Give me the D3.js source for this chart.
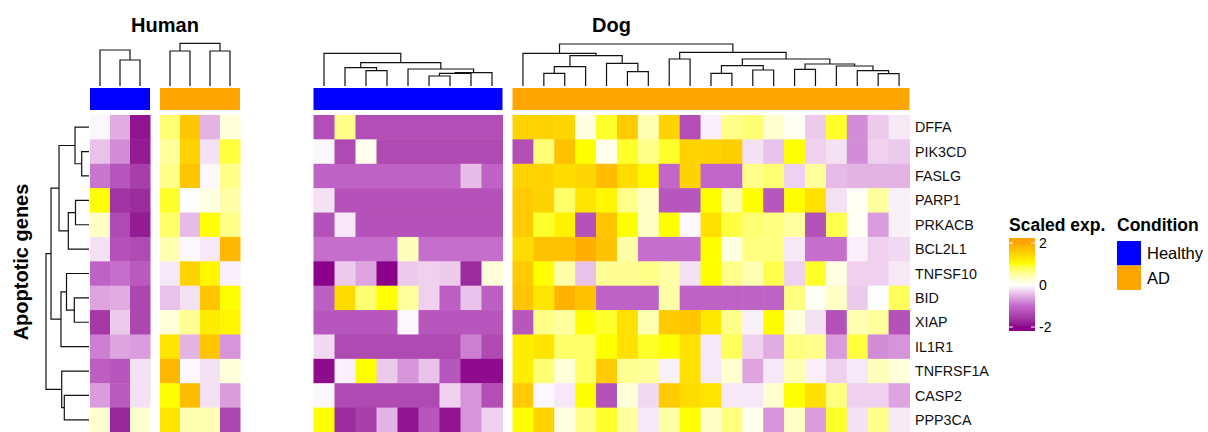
<!DOCTYPE html>
<html>
<head>
<meta charset="utf-8">
<script src="https://cdn.jsdelivr.net/npm/d3@7"></script>
<style>
  body { margin: 0; background: #fff; }
  svg { display: block; font-family: "Liberation Sans", Arial, sans-serif; }
</style>
</head>
<body>
<svg id="chart" width="1208" height="432"></svg>
<script>
// genes (rows, top to bottom)
const genes = ["DFFA", "PIK3CD", "FASLG", "PARP1", "PRKACB", "BCL2L1", "TNFSF10",
  "BID", "XIAP", "IL1R1", "TNFRSF1A", "CASP2", "PPP3CA"]

const conditions = ["Healthy", "AD"]
const conditionColors = ["#0000FF", "#FFA500"]

// scaled expression, one array per row
const humanHealthy = [
  [-0.05, -0.55, -1.9], [-0.4, -0.75, -1.85], [-0.9, -1.2, -1.5], [1.0, -1.6, -1.7],
  [0.3, -1.35, -1.85], [-0.2, -1.25, -1.35], [-1.05, -0.95, -1.15], [-0.6, -0.55, -1.4],
  [-1.55, -0.35, -1.4], [-0.85, -0.6, -0.65], [-1.1, -1.2, -0.2], [-0.65, -1.15, -0.2],
  [0.25, -1.75, 0.25]
]
const humanAD = [
  [0.7, 1.65, -0.5, 0.2], [0.5, 1.5, -0.2, 0.9], [0.6, 1.65, -0.05, 0.6], [0.95, 0.0, 0.15, 0.45],
  [0.75, -0.45, 1.0, 0.6], [0.4, -0.05, -0.15, 1.8], [-0.15, 1.5, 1.1, -0.1], [-0.4, -0.2, 1.65, 1.0],
  [0.2, 0.55, 1.2, 1.1], [1.3, -0.5, 1.65, -0.7], [1.8, -0.05, -0.2, 0.2], [1.0, 1.75, -0.2, -0.65],
  [1.3, 0.4, 0.4, -1.4]
]
const dogHealthy = [
  [-1.3, 0.6, -1.3, -1.3, -1.3, -1.3, -1.3, -1.3, -1.3],
  [-0.05, -1.35, 0.1, -1.35, -1.35, -1.35, -1.35, -1.35, -1.35],
  [-1.05, -1.05, -1.05, -1.05, -1.05, -1.05, -1.05, -0.45, -1.05],
  [-0.2, -1.25, -1.25, -1.25, -1.25, -1.25, -1.25, -1.25, -1.25],
  [-1.25, -0.15, -1.25, -1.25, -1.25, -1.25, -1.25, -1.25, -1.25],
  [-0.95, -0.95, -0.95, -0.95, 0.35, -0.95, -0.95, -0.95, -0.95],
  [-2.0, -0.35, -0.6, -2.0, -0.35, -0.3, -0.35, -1.7, 0.2],
  [-1.1, 1.4, 0.7, 1.0, 0.5, -0.3, -1.1, -0.4, -1.1],
  [-1.2, -1.2, -1.2, -1.2, -0.05, -1.2, -1.2, -1.2, -1.2],
  [-0.25, -1.35, -1.35, -1.35, -1.35, -1.35, -1.35, -0.85, -1.35],
  [-1.95, -0.1, 1.0, -0.35, -0.7, -0.4, -1.2, -1.95, -1.95],
  [-0.05, -1.35, -1.35, -1.35, -1.35, -1.35, -0.3, -0.7, -1.3],
  [1.0, -1.7, -1.5, -0.5, -1.9, -1.2, -1.9, -0.7, -0.3]
]
const dogAD = [
  [1.5, 1.5, 1.45, 0.15, 0.95, 1.6, 0.4, 1.5, -1.3, -0.1, 0.6, 0.7, 0.25, 0.05, -0.35, 0.95, -0.75, -0.35, -0.15],
  [-1.3, 0.7, 1.7, 1.0, 0.1, 0.95, 0.6, 0.95, 1.5, 1.5, 1.55, -0.2, -0.4, 1.0, -0.3, -0.2, -0.75, -0.3, -0.35],
  [1.5, 1.5, 1.4, 1.45, 1.75, 1.4, 1.1, -1.0, 1.5, -1.0, -1.0, 0.6, 0.7, -0.3, 0.5, -0.45, -0.5, -0.5, -0.5],
  [1.6, 1.5, 0.75, 1.3, 1.1, 0.6, 0.3, -1.2, -1.2, 1.0, 0.45, 1.0, -1.2, 1.0, 1.35, -0.2, 0.05, 0.5, -0.1],
  [1.6, 0.95, 1.15, -1.25, 1.65, 1.0, 0.3, 1.0, -0.05, 1.35, 0.9, 0.7, 0.65, 0.5, -1.25, 0.85, 0.05, -0.65, -0.1],
  [1.4, 1.7, 1.7, 1.9, 1.7, 0.45, -0.95, -0.95, -0.95, 1.0, 0.15, 0.65, 0.65, -0.15, -0.95, -0.95, -0.1, -0.3, -0.25],
  [1.6, 1.0, 0.45, -0.4, 0.55, 0.55, 0.6, 0.45, -0.2, 1.0, 0.6, 0.4, 0.85, -0.3, 0.95, 0.15, -0.3, -0.3, -0.15],
  [1.65, 1.3, 1.85, 1.7, -1.05, -1.05, -1.05, 0.45, -1.05, -1.05, -1.05, -1.05, -1.05, 0.65, 0.05, 0.3, -0.35, 0.0, 0.8],
  [-1.2, 0.6, 0.5, 1.0, 0.95, 1.35, 0.4, 1.6, 1.65, 1.25, 0.6, -0.1, 1.05, 0.2, -0.2, -1.25, 0.4, 0.5, -1.25],
  [1.2, 1.3, 0.75, 0.75, 1.0, 1.35, 0.95, 1.0, 1.35, -0.15, 0.8, -0.3, -0.55, 0.65, 0.6, -0.65, 0.9, -0.75, -0.7],
  [1.2, 0.7, 0.2, 0.75, 1.6, 0.55, 0.5, -0.1, 1.35, -0.15, 0.25, -0.6, -0.15, 0.4, -0.1, -0.3, -0.15, 0.35, 0.2],
  [1.6, -0.05, -0.15, 1.0, -1.25, 0.2, -0.25, 1.6, 1.4, 1.3, -0.15, -0.15, 0.25, 1.0, 1.35, 0.65, -0.3, -0.3, -0.6],
  [1.0, 1.5, 0.15, 0.6, 0.95, 0.5, -0.15, 0.45, 1.0, 0.3, 0.65, 0.1, -0.7, 0.3, -0.65, 0.95, -0.2, 0.6, -0.15]
]

// dendrograms, hclust style merges: [a, b, height], negative = leaf (-1 is first leaf)
const humanHealthyTree = [[-2, -3, 26], [-1, 1, 36]]
const humanADTree = [[-1, -2, 35], [-3, -4, 35], [1, 2, 42.7]]
const dogHealthyTree = [
  [-6, -7, 10], [1, -8, 12.7], [2, -9, 13.3], [-5, 3, 17], [-3, -4, 15.3],
  [-2, 5, 18.3], [6, 4, 23.3], [-1, 7, 32.7]
]
const dogADTree = [
  [-2, -3, 12.7], [1, -4, 19.3], [-6, -7, 14.3], [-5, 3, 22.7], [2, 4, 30.3],
  [-1, 5, 32.7], [-8, -9, 27], [-10, -11, 12.7], [-12, -13, 16], [8, 9, 20.3],
  [-14, -15, 16.7], [-18, -19, 12.3], [-17, 12, 15.3], [-16, 13, 20], [11, 14, 22],
  [10, 15, 27], [7, 16, 33.7], [6, 17, 42]
]
const geneTree = [
  [-2, -3, 7.3], [-1, 1, 14], [-4, -5, 13.5], [3, -6, 20.7], [2, 4, 30],
  [-8, -9, 14.7], [-7, 6, 22.5], [7, -10, 28], [5, 8, 38], [-12, -13, 24.7],
  [-11, 10, 27.3], [9, 11, 43]
]

const legendTicks = [2, 0, -2]

const svg = d3.select('#chart')

var color = d3.scaleLinear()
  .domain([-2, -1, 0, 1, 2])
  .range(['#8B008B', '#C266C9', '#FFFFFF', '#FFFF00', '#FFA500'])
  .interpolate(d3.interpolateLab)
  .clamp(true)

var yRow = d3.scaleBand().domain(genes).range([115, 432])
var colTreeY = d3.scaleLinear().domain([0, 50]).range([86, 36])
var rowTreeX = d3.scaleLinear().domain([0, 50]).range([89, 39])

const panels = [
  { values: humanHealthy, tree: humanHealthyTree, cond: 0, x0: 90, x1: 150 },
  { values: humanAD, tree: humanADTree, cond: 1, x0: 160, x1: 240 },
  { values: dogHealthy, tree: dogHealthyTree, cond: 0, x0: 313.5, x1: 502.5 },
  { values: dogAD, tree: dogADTree, cond: 1, x0: 512.5, x1: 909.5 }
]

function treePaths(merges, leafPos, hPos, vertical) {
  var nodes = []
  var paths = []
  function node(k) {
    return k < 0 ? { p: leafPos(-k - 1), h: 0 } : nodes[k - 1]
  }
  merges.forEach(m => {
    var a = node(m[0]), b = node(m[1])
    if (vertical) {
      paths.push('M' + a.p + ',' + hPos(a.h) + 'V' + hPos(m[2]) + 'H' + b.p + 'V' + hPos(b.h))
    } else {
      paths.push('M' + hPos(a.h) + ',' + a.p + 'H' + hPos(m[2]) + 'V' + b.p + 'H' + hPos(b.h))
    }
    nodes.push({ p: (a.p + b.p) / 2, h: m[2] })
  })
  return paths
}

panels.forEach(panel => {
  var ncol = panel.values[0].length
  var x = d3.scaleBand().domain(d3.range(ncol)).range([panel.x0, panel.x1])
  var cells = []
  panel.values.forEach((row, i) => row.forEach((v, j) => cells.push({ gene: genes[i], col: j, v: v })))

  svg.append('g').selectAll('rect')
    .data(cells)
    .enter()
    .append('rect')
    .attr('x', d => x(d.col))
    .attr('y', d => yRow(d.gene))
    .attr('width', x.bandwidth() + 0.5)
    .attr('height', yRow.bandwidth() + 0.5)
    .style('fill', d => color(d.v))

  // condition annotation
  svg.append('rect')
    .attr('x', panel.x0).attr('y', 88)
    .attr('width', panel.x1 - panel.x0).attr('height', 22)
    .style('fill', conditionColors[panel.cond])

  svg.append('g').selectAll('path')
    .data(treePaths(panel.tree, i => x(i) + x.bandwidth() / 2, colTreeY, true))
    .enter()
    .append('path')
    .attr('d', d => d)
    .style('fill', 'none')
    .style('stroke', '#111')
    .style('stroke-width', '1.2px')
})

// gene dendrogram
svg.append('g').selectAll('path')
  .data(treePaths(geneTree, i => yRow(genes[i]) + yRow.bandwidth() / 2, rowTreeX, false))
  .enter()
  .append('path')
  .attr('d', d => d)
  .style('fill', 'none')
  .style('stroke', '#111')
  .style('stroke-width', '1.2px')

// gene labels
svg.append('g').selectAll('text')
  .data(genes)
  .enter()
  .append('text')
  .attr('x', 915)
  .attr('y', d => yRow(d) + yRow.bandwidth() / 2)
  .attr('dy', '0.36em')
  .style('font-size', '14.3px')
  .style('fill', '#111')
  .text(d => d)

// titles
svg.append('text').attr('x', 165).attr('y', 32)
  .attr('text-anchor', 'middle')
  .style('font-size', '20px').style('font-weight', 'bold')
  .text('Human')
svg.append('text').attr('x', 611.5).attr('y', 32)
  .attr('text-anchor', 'middle')
  .style('font-size', '20px').style('font-weight', 'bold')
  .text('Dog')
svg.append('text')
  .attr('transform', 'translate(28,262) rotate(-90)')
  .attr('text-anchor', 'middle')
  .style('font-size', '20px').style('font-weight', 'bold')
  .text('Apoptotic genes')

// colour legend
var legY = d3.scaleLinear().domain([-2, 2]).range([327, 243])
var grad = svg.append('defs').append('linearGradient')
  .attr('id', 'expGrad')
  .attr('x1', 0).attr('y1', 0).attr('x2', 0).attr('y2', 1)
d3.range(2.1, -2.11, -0.1).forEach(v => {
  grad.append('stop')
    .attr('offset', (legY(v) - 238) / (331 - 238))
    .attr('stop-color', color(v))
})
svg.append('text').attr('x', 1009).attr('y', 231)
  .style('font-size', '17.5px').style('font-weight', 'bold')
  .text('Scaled exp.')
svg.append('rect')
  .attr('x', 1009).attr('y', 238).attr('width', 26).attr('height', 93)
  .style('fill', 'url(#expGrad)')
var tick = svg.append('g').selectAll('g')
  .data(legendTicks)
  .enter()
  .append('g')
  .attr('transform', d => 'translate(0,' + legY(d) + ')')
tick.append('line').attr('x1', 1009).attr('x2', 1013).style('stroke', '#fff')
tick.append('line').attr('x1', 1031).attr('x2', 1035).style('stroke', '#fff')
tick.append('text')
  .attr('x', 1039).attr('dy', '0.36em')
  .style('font-size', '14px')
  .text(d => d)

// condition legend
svg.append('text').attr('x', 1117).attr('y', 231)
  .style('font-size', '17.5px').style('font-weight', 'bold')
  .text('Condition')
var cond = svg.append('g').selectAll('g')
  .data(conditions)
  .enter()
  .append('g')
  .attr('transform', (d, i) => 'translate(1117,' + (241 + i * 24.5) + ')')
cond.append('rect')
  .attr('width', 24).attr('height', 24.5)
  .style('fill', (d, i) => conditionColors[i])
cond.append('text')
  .attr('x', 30).attr('y', 12.5).attr('dy', '0.36em')
  .style('font-size', '16.5px')
  .text(d => d)
</script>
</body>
</html>
